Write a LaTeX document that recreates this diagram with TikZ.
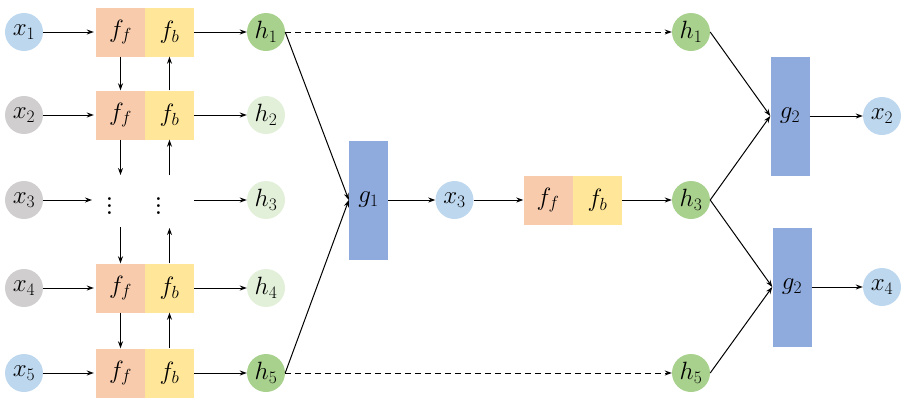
\RequirePackage{fix-cm}
\documentclass[tikz,border=0pt]{standalone}
\usetikzlibrary{arrows.meta}
\definecolor{cblue}{HTML}{BDD7EE}
\definecolor{cgray}{HTML}{D0CECE}
\definecolor{cgreen}{HTML}{A9D18E}
\definecolor{clgreen}{HTML}{E2F0D9}
\definecolor{cff}{HTML}{F8CBAD}
\definecolor{cfb}{HTML}{FFE699}
\definecolor{cg}{HTML}{8FAADC}
\begin{document}
\begin{tikzpicture}[x=1pt,y=-1pt,
 every node/.style={font=\fontsize{25}{30}\selectfont},
 circ/.style={circle,minimum size=38pt,inner sep=0pt},
 fbox/.style={minimum width=49pt,minimum height=49pt,inner sep=0pt},
 ffbox/.style={fbox,fill=cff},
 fbbox/.style={fbox,fill=cfb},
 gbox/.style={fill=cg,minimum width=39pt,minimum height=119pt,inner sep=0pt},
 dots/.style={font=\fontsize{20}{24}\selectfont,inner sep=0pt},
 arr/.style={-{Stealth[length=7pt,width=5pt]},line width=1pt},
 darr/.style={arr,dash pattern=on 6pt off 4pt}]
\path[use as bounding box] (0,0) rectangle (913,400);
% left inputs
\node[circ,fill=cblue] (x1) at (24,32) {$x_1$};
\node[circ,fill=cgray] (x2) at (24,115) {$x_2$};
\node[circ,fill=cgray] (x3) at (24,200) {$x_3$};
\node[circ,fill=cgray] (x4) at (24,288) {$x_4$};
\node[circ,fill=cblue] (x5) at (24,373) {$x_5$};
% boxes
\node[ffbox] (ff1) at (120.5,32) {$f_f$};
\node[fbbox] (fb1) at (169.5,32) {$f_b$};
\node[ffbox] (ff2) at (120.5,115) {$f_f$};
\node[fbbox] (fb2) at (169.5,115) {$f_b$};
\node[ffbox] (ff4) at (120.5,288) {$f_f$};
\node[fbbox] (fb4) at (169.5,288) {$f_b$};
\node[ffbox] (ff5) at (120.5,373) {$f_f$};
\node[fbbox] (fb5) at (169.5,373) {$f_b$};
\node[dots] (d1) at (110,201) {\scalebox{1.75}{$\vdots$}};
\node[dots] (d2) at (159,201) {\scalebox{1.75}{$\vdots$}};
% hidden
\node[circ,fill=cgreen] (h1) at (266,32) {$h_1$};
\node[circ,fill=clgreen] (h2) at (266,115) {$h_2$};
\node[circ,fill=clgreen] (h3) at (266,200) {$h_3$};
\node[circ,fill=clgreen] (h4) at (266,288) {$h_4$};
\node[circ,fill=cgreen] (h5) at (266,373) {$h_5$};
% middle
\node[gbox] (g1) at (368.5,200) {$g_1$};
\node[circ,fill=cblue] (mx3) at (454.5,200) {$x_3$};
\node[ffbox] (mff) at (548,200) {$f_f$};
\node[fbbox] (mfb) at (597.5,200) {$f_b$};
% right
\node[circ,fill=cgreen] (rh1) at (691,32) {$h_1$};
\node[circ,fill=cgreen] (rh3) at (691,200) {$h_3$};
\node[circ,fill=cgreen] (rh5) at (691,373) {$h_5$};
\node[gbox] (g2a) at (790,116) {$g_2$};
\node[gbox] (g2b) at (792,287) {$g_2$};
\node[circ,fill=cblue] (rx2) at (882,116) {$x_2$};
\node[circ,fill=cblue] (rx4) at (882,287) {$x_4$};
% coordinates for row 3
\coordinate (r3a) at (94,200);
\coordinate (r3b) at (194,200);
\coordinate (fd1) at (120.5,175);
\coordinate (fd2) at (120.5,227);
\coordinate (bu1) at (169.5,228);
\coordinate (bu2) at (169.5,175);
% arrows left
\foreach \i in {1,2,4,5}{
  \draw[arr,shorten >=2pt] (x\i) -- (ff\i.west);
  \draw[arr] (fb\i.east) -- (h\i);
}
\draw[arr,shorten >=2pt] (x3) -- (r3a);
\draw[arr] (r3b) -- (h3);
\draw[arr] (ff1) -- (ff2);
\draw[arr] (fb2) -- (fb1);
\draw[arr] (ff2) -- (fd1);
\draw[arr] (fd2) -- (ff4);
\draw[arr] (fb4) -- (bu1);
\draw[arr] (bu2) -- (fb2);
\draw[arr] (ff4) -- (ff5);
\draw[arr] (fb5) -- (fb4);
% middle arrows
\draw[arr] (h1.east) -- (g1.west);
\draw[arr] (h5.east) -- (g1.west);
\draw[arr] (g1) -- (mx3);
\draw[arr] (mx3) -- (mff);
\draw[arr] (mfb) -- (rh3);
\draw[darr] (h1) -- (rh1);
\draw[darr] (h5) -- (rh5);
% right arrows
\draw[arr] (rh1.east) -- (g2a.west);
\draw[arr] (rh3.east) -- (g2a.west);
\draw[arr] (rh3.east) -- (g2b.west);
\draw[arr] (rh5.east) -- (g2b.west);
\draw[arr] (g2a) -- (rx2);
\draw[arr] (g2b) -- (rx4);
\end{tikzpicture}
\end{document}
